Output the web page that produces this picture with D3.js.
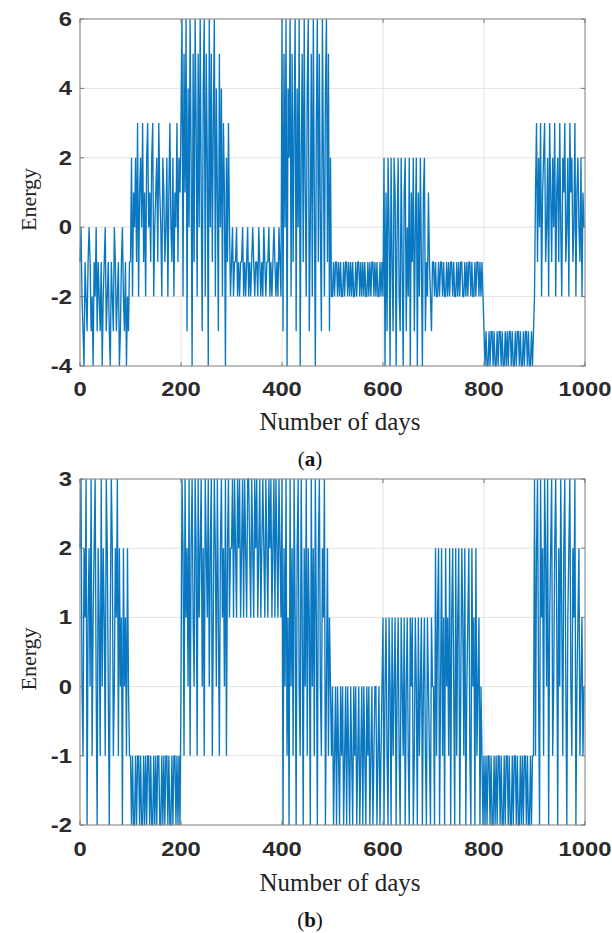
<!DOCTYPE html>
<html>
<head>
<meta charset="utf-8">
<script src="https://cdn.jsdelivr.net/npm/d3@7"></script>
<style>
  html, body { margin: 0; padding: 0; background: #fff; }
  svg { display: block; }
</style>
</head>
<body>
<svg id="chart" width="612" height="933"></svg>
<script>
// ---------------- DATA ----------------
const xTicks = [0, 200, 400, 600, 800, 1000];
const yTicksA = [-4, -2, 0, 2, 4, 6];
const yTicksB = [-2, -1, 0, 1, 2, 3];
const dayStep = 2; // one sample every 2 days

// Panel (a): energy, 50 samples per 100-day block
const energyA = [
  // 0-100
  -1,0,-2,-3,-4,-1,-2,-3,-1,0,-1,-3,-2,-4,-1,-2,0,-3,-1,-2,-3,-1,-4,-2,-1,0,-3,-2,-1,-3,-4,-1,-2,-3,0,-1,-3,-2,-1,-4,-3,-1,0,-2,-3,-1,-4,-2,-3,-1,
  // 100-200
  -1,2,-2,1,0,2,-1,3,-2,1,2,0,3,-1,1,-2,2,3,0,1,-1,2,3,-2,0,1,2,-1,3,1,0,-2,2,1,-1,0,2,-2,1,3,0,-1,2,-2,1,0,3,-1,2,1,
  // 200-300
  3,6,-2,5,1,6,-3,4,0,6,2,-4,5,-1,6,3,-2,5,0,6,1,-3,4,6,-2,5,2,-4,6,0,5,-1,3,6,-2,4,1,-3,5,0,4,-2,3,1,-4,2,-1,3,0,-2,
  // 300-400
  -1,0,-2,-1,-1,0,-2,-1,-2,-1,-1,0,-2,-1,-2,-1,0,-2,-1,-2,-1,0,-1,-2,-1,-1,-2,0,-1,-2,-1,-2,0,-1,-2,-1,-1,0,-2,-1,-2,-1,0,-1,-2,-1,-2,0,-1,-2,
  // 400-500
  6,-3,5,0,6,-4,4,2,6,-2,5,-1,3,6,-3,4,0,6,-4,2,5,-1,6,1,-2,4,6,-3,0,5,-2,6,1,-4,3,6,-1,5,0,-3,6,2,-2,4,6,-1,5,-3,2,-2,
  // 500-600
  -2,-1,-2,-1,-1,-2,-1,-2,-1,-2,-2,-1,-2,-1,-1,-2,-1,-2,-1,-2,-1,-2,-2,-1,-2,-1,-1,-2,-1,-2,-1,-2,-1,-2,-2,-1,-2,-1,-2,-1,-1,-2,-1,-2,-1,-2,-2,-1,-2,-1,
  // 600-700
  -2,2,-4,1,-3,2,0,-4,2,-1,-3,2,1,-4,0,2,-2,-3,2,-1,-4,1,2,-3,0,-2,2,-4,1,-1,2,-3,0,2,-4,1,-2,2,-1,-4,1,2,-3,-1,-2,1,-1,-2,-3,-1,
  // 700-800
  -1,-2,-1,-2,-2,-1,-2,-1,-1,-2,-1,-2,-2,-1,-2,-1,-2,-1,-1,-2,-1,-2,-2,-1,-2,-1,-2,-1,-1,-2,-2,-1,-2,-1,-2,-1,-1,-2,-1,-2,-2,-1,-2,-1,-1,-2,-1,-2,-1,-2,
  // 800-900
  -3,-4,-3,-4,-4,-3,-4,-3,-3,-4,-3,-4,-4,-3,-4,-3,-3,-4,-3,-4,-4,-3,-4,-3,-4,-3,-3,-4,-3,-4,-4,-3,-4,-3,-3,-4,-3,-4,-4,-3,-4,-3,-3,-4,-3,-4,-4,-3,-4,-3,
  // 900-1000
  -2,1,3,-1,2,0,3,-2,1,2,3,-1,0,2,-2,3,1,-1,2,0,3,-2,1,2,-1,3,0,-2,2,1,3,-1,0,2,-2,3,1,2,-1,0,3,-2,1,2,0,-1,2,-2,1,0
];

// Panel (b): energy, 50 samples per 100-day block
const energyB = [
  // 0-100
  2,3,0,-1,2,1,3,-2,1,2,0,3,-1,1,2,3,0,-2,2,1,-1,3,0,2,1,-1,3,2,0,-2,1,3,2,-1,0,2,1,3,-1,2,0,1,-2,2,0,1,-1,2,0,-1,
  // 100-200
  -1,-2,-1,-2,-2,-1,-2,-1,-1,-2,-1,-2,-2,-1,-2,-1,-2,-1,-1,-2,-1,-2,-2,-1,-2,-1,-2,-1,-1,-2,-2,-1,-2,-1,-2,-1,-1,-2,-1,-2,-2,-1,-2,-1,-1,-2,-1,-2,-1,-2,
  // 200-300
  0,3,2,-1,3,1,2,0,3,-1,2,3,1,0,3,2,-1,3,1,2,3,0,2,-1,3,2,1,3,0,2,3,-1,1,3,2,0,3,1,-1,2,3,1,2,0,3,-1,2,3,1,2,
  // 300-400
  2,3,1,3,2,1,3,2,3,1,2,3,1,3,2,1,3,3,2,1,3,2,1,3,2,3,1,2,3,1,2,3,2,1,3,2,1,3,2,3,1,2,3,1,3,2,1,3,2,1,
  // 400-500
  3,-2,2,0,3,-1,1,-2,3,0,2,-1,3,1,-2,2,3,0,-1,3,1,-2,2,0,3,-1,2,1,-2,3,0,2,-1,3,1,-2,2,3,0,-1,2,1,3,-2,0,2,-1,1,0,-1,
  // 500-600
  0,-2,-1,0,-2,0,-1,-2,0,-1,0,-2,-1,0,-2,0,-1,-2,0,-1,-2,0,-1,0,-2,-1,0,-2,-1,0,-2,0,-1,-2,0,-1,0,-2,-1,0,-2,-1,0,0,-2,-1,0,-2,-1,0,
  // 600-700
  1,-2,0,1,-1,-2,1,0,-2,1,-1,0,1,-2,0,1,-1,-2,1,0,-1,1,-2,0,1,-1,-2,1,0,1,-2,-1,1,0,-2,1,-1,0,1,-2,0,1,-1,-2,1,0,-1,-2,1,0,
  // 700-800
  0,-2,2,-1,1,2,-2,0,2,-1,1,-2,2,0,1,-1,2,-2,1,2,0,-2,2,-1,1,2,-2,0,2,1,-1,2,-2,0,1,2,-1,-2,2,0,1,-2,2,-1,0,1,-2,0,-1,-2,
  // 800-900
  -1,-2,-1,-2,-1,-1,-2,-1,-2,-2,-1,-2,-1,-2,-1,-1,-2,-1,-2,-2,-1,-2,-1,-1,-2,-1,-2,-2,-1,-2,-1,-1,-2,-1,-2,-2,-1,-2,-1,-2,-1,-1,-2,-1,-2,-2,-1,-2,-1,-1,
  // 900-1000
  3,-1,2,3,0,-2,3,1,2,-1,3,2,0,3,-2,1,2,3,-1,0,2,3,1,-2,2,0,3,1,-1,2,3,0,-2,1,2,3,0,-1,2,1,3,-2,0,1,2,-1,0,1,-1,0
];

const panels = [
  { values: energyA, yTicks: yTicksA, top: 19, bottom: 366, tag: "a", xlabY: 430, tagY: 466, tickY: 396 },
  { values: energyB, yTicks: yTicksB, top: 479, bottom: 825, tag: "b", xlabY: 891, tagY: 927, tickY: 856 }
];

// ---------------- DRAW ----------------
const svg = d3.select("#chart");
const left = 80, right = 585;
const lineColor = "#0a78c0";
const stretch = 1.22;

panels.forEach(p => {
  const x = d3.scaleLinear().domain([0, 1000]).range([left, right]);
  const y = d3.scaleLinear().domain(d3.extent(p.yTicks)).range([p.bottom, p.top]);
  const g = svg.append("g");

  // grid
  g.selectAll(".gx").data(xTicks).enter().append("line")
    .attr("x1", d => x(d)).attr("x2", d => x(d))
    .attr("y1", p.top).attr("y2", p.bottom)
    .attr("stroke", "#e3e3e3").attr("stroke-width", 1);
  g.selectAll(".gy").data(p.yTicks).enter().append("line")
    .attr("x1", left).attr("x2", right)
    .attr("y1", d => y(d)).attr("y2", d => y(d))
    .attr("stroke", "#e3e3e3").attr("stroke-width", 1);

  // data line
  const line = d3.line()
    .x((d, i) => x(i * dayStep))
    .y(d => y(d));
  g.append("path")
    .datum(p.values)
    .attr("fill", "none")
    .attr("stroke", lineColor)
    .attr("stroke-width", 1.35)
    .attr("stroke-linejoin", "miter")
    .attr("stroke-miterlimit", 1)
    .attr("d", line);

  // box
  g.append("rect")
    .attr("x", left).attr("y", p.top)
    .attr("width", right - left).attr("height", p.bottom - p.top)
    .attr("fill", "none").attr("stroke", "#8a8a8a").attr("stroke-width", 1);

  // inward ticks
  const tl = 4;
  xTicks.forEach(t => {
    g.append("line").attr("x1", x(t)).attr("x2", x(t)).attr("y1", p.bottom).attr("y2", p.bottom - tl).attr("stroke", "#777");
    g.append("line").attr("x1", x(t)).attr("x2", x(t)).attr("y1", p.top).attr("y2", p.top + tl).attr("stroke", "#777");
  });
  p.yTicks.forEach(t => {
    g.append("line").attr("x1", left).attr("x2", left + tl).attr("y1", y(t)).attr("y2", y(t)).attr("stroke", "#777");
    g.append("line").attr("x1", right).attr("x2", right - tl).attr("y1", y(t)).attr("y2", y(t)).attr("stroke", "#777");
  });

  // tick labels
  xTicks.forEach(t => {
    g.append("text")
      .attr("transform", `translate(${x(t)},${p.tickY}) scale(${stretch},1)`)
      .attr("text-anchor", "middle")
      .attr("font-family", "'Liberation Sans', Arial, sans-serif")
      .attr("font-weight", "bold")
      .attr("font-size", 19.5)
      .attr("fill", "#2b2b2b")
      .text(t);
  });
  p.yTicks.forEach(t => {
    g.append("text")
      .attr("transform", `translate(${left - 8},${y(t) + 7}) scale(${stretch},1)`)
      .attr("text-anchor", "end")
      .attr("font-family", "'Liberation Sans', Arial, sans-serif")
      .attr("font-weight", "bold")
      .attr("font-size", 19.5)
      .attr("fill", "#2b2b2b")
      .text(t);
  });

  // axis labels
  g.append("text")
    .attr("x", 340).attr("y", p.xlabY)
    .attr("text-anchor", "middle")
    .attr("font-family", "'Liberation Serif', 'Times New Roman', serif")
    .attr("font-size", 25)
    .attr("fill", "#222")
    .text("Number of days");
  g.append("text")
    .attr("transform", `translate(36,${(p.top + p.bottom) / 2 + 7}) rotate(-90)`)
    .attr("text-anchor", "middle")
    .attr("font-family", "'Liberation Serif', 'Times New Roman', serif")
    .attr("font-size", 22)
    .attr("fill", "#222")
    .text("Energy");

  // panel tag
  const tag = g.append("text")
    .attr("x", 310).attr("y", p.tagY)
    .attr("text-anchor", "middle")
    .attr("font-family", "'Liberation Serif', 'Times New Roman', serif")
    .attr("font-size", 21)
    .attr("fill", "#111");
  tag.append("tspan").text("(");
  tag.append("tspan").attr("font-weight", "bold").text(p.tag);
  tag.append("tspan").text(")");
});
</script>
</body>
</html>
